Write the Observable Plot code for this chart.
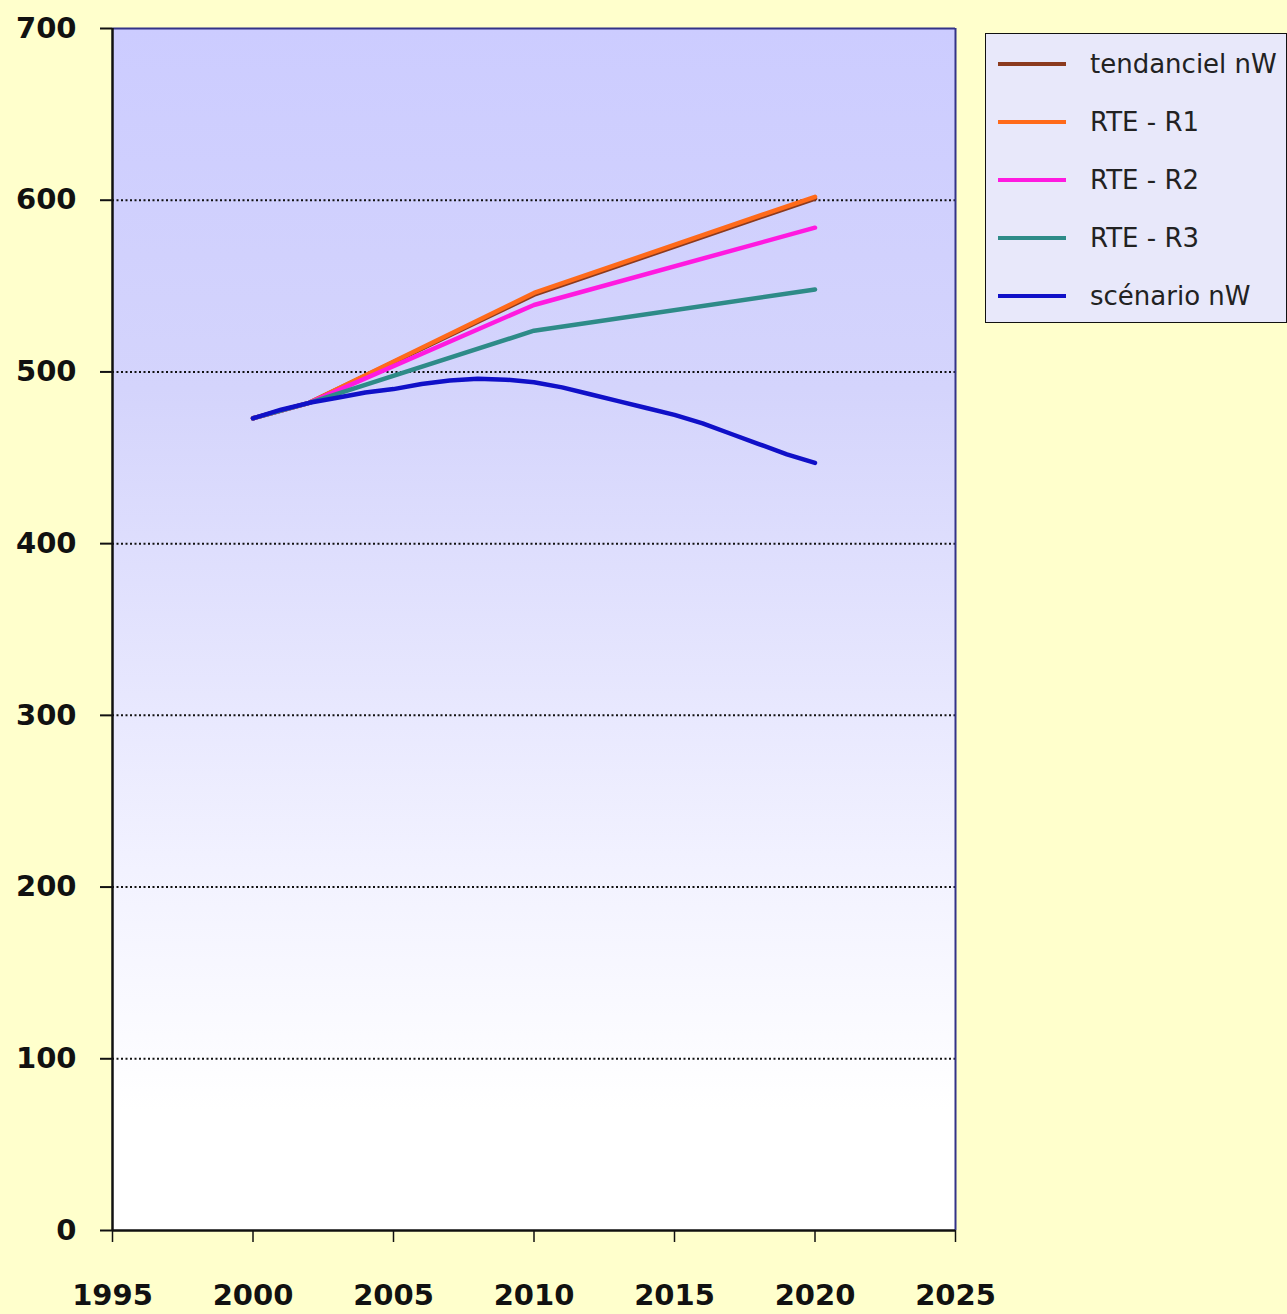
<!DOCTYPE html>
<html>
<head>
<meta charset="utf-8">
<script src="https://cdn.jsdelivr.net/npm/d3@7"></script>
<script src="https://cdn.jsdelivr.net/npm/@observablehq/plot@0.6"></script>
<style>
  html, body { margin: 0; padding: 0; background: #FFFFCC; }
  #wrap { position: relative; width: 1287px; height: 1314px; }
  #legend {
    position: absolute; left: 985px; top: 33px; width: 302px; height: 290px;
    background: #E8E8FA; border: 1.5px solid #111; box-sizing: border-box;
    font-family: "DejaVu Sans", sans-serif; font-size: 26px; color: #222;
  }
  .item { position: absolute; left: 0; height: 30px; display: flex; align-items: center; }
  .sw { width: 68px; height: 4px; margin-left: 12px; margin-right: 24px; }
</style>
</head>
<body>
<div id="wrap"></div>
<script>
// ---- data ----
const scenarioYears = [2000,2001,2002,2003,2004,2005,2006,2007,2008,2009,2010,2011,2012,2013,2014,2015,2016,2017,2018,2019,2020];
const scenarioNW   = [473, 478, 482, 485, 488, 490, 493, 495, 496, 495.5, 494, 491, 487, 483, 479, 475, 470, 464, 458, 452, 447];

const rteYears    = [2000, 2002, 2010, 2020];
const tendanciel  = [473, 482, 545, 601];
const rteR1       = [473, 482, 546, 602];
const rteR2       = [473, 482, 539, 584];
const rteR3       = [473, 482, 524, 548];

const seriesNames  = ["tendanciel nW", "RTE - R1", "RTE - R2", "RTE - R3", "scénario nW"];
const seriesColors = ["#8B3A1E", "#FF6A1A", "#FF1AE0", "#2E8B88", "#1010C8"];

const xTicks = [1995, 2000, 2005, 2010, 2015, 2020, 2025];
const yTicks = [0, 100, 200, 300, 400, 500, 600, 700];

// ---- build tables ----
const toRows = (xs, ys) => xs.map((x, i) => ({x, y: ys[i]}));
const series = [
  toRows(rteYears, tendanciel),
  toRows(rteYears, rteR1),
  toRows(rteYears, rteR2),
  toRows(rteYears, rteR3),
  toRows(scenarioYears, scenarioNW)
];
const gridVals = yTicks.filter(v => v > yTicks[0] && v < yTicks[yTicks.length - 1]);

const chart = Plot.plot({
  width: 1287,
  height: 1314,
  marginLeft: 112,
  marginRight: 332,
  marginTop: 28,
  marginBottom: 84,
  style: { background: "#FFFFCC", fontFamily: "DejaVu Sans, sans-serif", fontSize: "29px", fontWeight: "bold", color: "#111" },
  x: { domain: [xTicks[0], xTicks[xTicks.length - 1]], ticks: xTicks, tickFormat: d => String(d) },
  y: { domain: [yTicks[0], yTicks[yTicks.length - 1]], ticks: yTicks },
  marks: [
    Plot.frame({ fill: "url(#bgGrad)", stroke: null }),
    Plot.ruleY(gridVals, { stroke: "#111", strokeWidth: 2, strokeDasharray: "2,2.5" }),
    Plot.ruleX([xTicks[xTicks.length - 1]], { stroke: "#333388", strokeWidth: 2 }),
    Plot.ruleY([yTicks[yTicks.length - 1]], { stroke: "#333388", strokeWidth: 2 }),
    Plot.ruleX([xTicks[0]], { stroke: "#111", strokeWidth: 2.5 }),
    Plot.ruleY([yTicks[0]], { stroke: "#111", strokeWidth: 2.5 }),
    Plot.axisX({ ticks: xTicks, tickFormat: d => String(d), tickSize: 12, tickPadding: 42, stroke: "#111", strokeWidth: 1.5, label: null }),
    Plot.axisY({ ticks: yTicks, tickSize: 12, tickPadding: 24, stroke: "#111", strokeWidth: 2, label: null }),
    ...series.map((rows, i) => Plot.line(rows, { x: "x", y: "y", stroke: seriesColors[i], strokeWidth: 4.5, strokeLinejoin: "round", strokeLinecap: "round" }))
  ]
});

// gradient definition for the plot background
const ns = "http://www.w3.org/2000/svg";
const defs = document.createElementNS(ns, "defs");
defs.innerHTML = '<linearGradient id="bgGrad" x1="0" y1="0" x2="0" y2="1">' +
  '<stop offset="0" stop-color="#CCCCFF"/>' +
  '<stop offset="0.3" stop-color="#D4D4FC"/>' +
  '<stop offset="0.7" stop-color="#F2F2FF"/>' +
  '<stop offset="0.9" stop-color="#FFFFFF"/>' +
  '<stop offset="1" stop-color="#FFFFFF"/></linearGradient>';
chart.insertBefore(defs, chart.firstChild);

const wrap = document.getElementById("wrap");
wrap.appendChild(chart);

// legend
const legend = document.createElement("div");
legend.id = "legend";
seriesNames.forEach((name, i) => {
  const item = document.createElement("div");
  item.className = "item";
  item.style.top = (15 + i * 58) + "px";
  const sw = document.createElement("div");
  sw.className = "sw";
  sw.style.background = seriesColors[i];
  const t = document.createElement("span");
  t.textContent = name;
  item.appendChild(sw);
  item.appendChild(t);
  legend.appendChild(item);
});
wrap.appendChild(legend);
</script>
</body>
</html>
